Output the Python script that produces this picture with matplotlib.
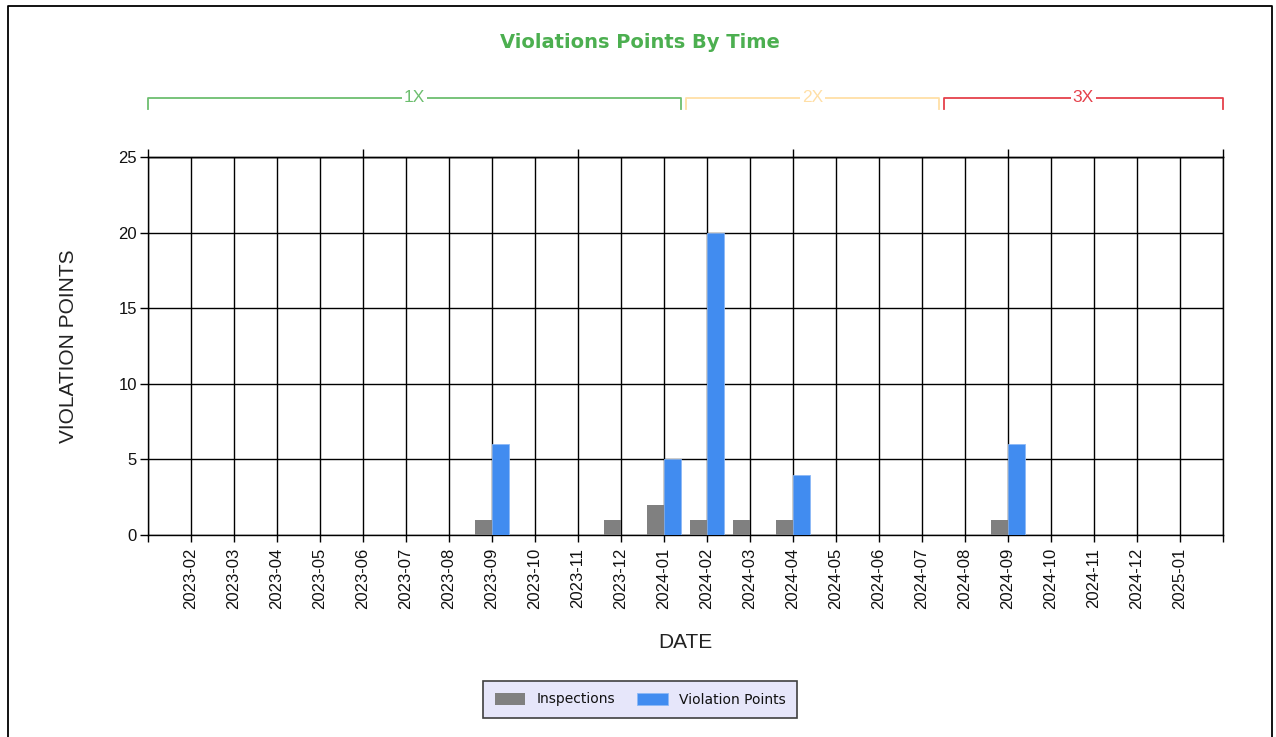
import matplotlib
matplotlib.use("Agg")
import matplotlib.pyplot as plt
import matplotlib.transforms as mtransforms
from matplotlib.lines import Line2D
import numpy as np

# ---------------- data ----------------
months = ["2023-02", "2023-03", "2023-04", "2023-05", "2023-06", "2023-07",
          "2023-08", "2023-09", "2023-10", "2023-11", "2023-12", "2024-01",
          "2024-02", "2024-03", "2024-04", "2024-05", "2024-06", "2024-07",
          "2024-08", "2024-09", "2024-10", "2024-11", "2024-12", "2025-01"]
inspections = [0, 0, 0, 0, 0, 0, 0, 1, 0, 0, 1, 2,
               1, 1, 1, 0, 0, 0, 0, 1, 0, 0, 0, 0]
violation_points = [0, 0, 0, 0, 0, 0, 0, 6, 0, 0, 0, 5,
                    20, 0, 4, 0, 0, 0, 0, 6, 0, 0, 0, 0]
y_ticks = [0, 5, 10, 15, 20, 25]
# multiplier bands (label, start, end) in month-slot units
band_labels = ["1X", "2X", "3X"]
band_starts = [0.0, 12.5, 18.5]
band_ends = [12.4, 18.4, 25.0]
band_colors = ["#6DBE6F", "#FFDFA6", "#E5414B"]

W, H = 1276, 737
fig = plt.figure(figsize=(W / 100, H / 100), dpi=100)
fig.patch.set_facecolor("white")

left, right, top, bottom = 148, 1223, 157, 535
ax = fig.add_axes([left / W, 1 - bottom / H, (right - left) / W, (bottom - top) / H])

x = np.arange(1, len(months) + 1)
bw = 0.395
ax.bar(x - bw / 2, inspections, width=bw, color="#808080", edgecolor="none",
       label="Inspections", zorder=3)
ax.bar(x + bw / 2, violation_points, width=bw, color="#418CF0",
       edgecolor="#8DB9F6", linewidth=0.6, label="Violation Points", zorder=3)

ax.set_xlim(0, len(months) + 1)
ax.set_ylim(0, 25)
ax.set_xticks(list(range(0, len(months) + 2)))
ax.set_xticklabels([""] + months + [""], rotation=90, fontsize=12,
                   family="Liberation Sans", color="#111111")
ax.set_yticks(y_ticks)
ax.set_yticklabels([str(v) for v in y_ticks], fontsize=12, family="Liberation Sans",
                   color="#111111")
ax.tick_params(axis="x", length=5, width=1.0, color="black", pad=4)
ax.tick_params(axis="y", length=6, width=1.0, color="black", pad=2)
ax.grid(True, color="black", linewidth=1.0, zorder=0)
ax.set_axisbelow(True)
for s in ax.spines.values():
    s.set_color("black")
    s.set_linewidth(1.0)

sec = ax.secondary_xaxis("top")
sec.set_xticks([0, 5, 10, 15, 20, 25])
sec.tick_params(axis="x", length=6, width=1.0, labeltop=False, color="black")
sec.spines["top"].set_linewidth(1.0)

ax.set_xlabel("DATE", fontsize=15, family="Liberation Sans", color="#222222")
ax.xaxis.set_label_coords(0.5, -0.259)
ax.set_ylabel("VIOLATION POINTS", fontsize=15, family="Liberation Sans",
              color="#222222", va="center")
ax.yaxis.set_label_coords(-0.0744, 0.5)

# bands above the chart
btr = mtransforms.blended_transform_factory(ax.transData, fig.transFigure)
yb = 1 - 98 / H
yb2 = 1 - 109 / H
for lab, s0, s1, c in zip(band_labels, band_starts, band_ends, band_colors):
    ax.add_line(Line2D([s0, s0, s1, s1], [yb2, yb, yb, yb2], transform=btr,
                       color=c, linewidth=1.3, clip_on=False))
    ax.text((s0 + s1) / 2, yb, lab, transform=btr, ha="center", va="center",
            color=c, fontsize=12.5, family="Liberation Sans",
            bbox=dict(facecolor="white", edgecolor="none", pad=1.5), clip_on=False)

fig.text(640 / W, 1 - 43 / H, "Violations Points By Time", ha="center", va="center",
         fontsize=14, fontweight="bold", color="#4CAF50", family="DejaVu Sans")

leg = ax.legend(loc="center", bbox_to_anchor=(640 / W, 1 - 699.5 / H),
                bbox_transform=fig.transFigure, ncol=2, fontsize=10,
                frameon=True, fancybox=False, facecolor="#E6E6FA",
                edgecolor="#404040", framealpha=1, handlelength=2.2,
                handleheight=1.0, columnspacing=1.6, borderpad=0.85,
                labelcolor="#111111")
leg.get_frame().set_linewidth(1.2)

# outer frame
fl, fr, ft = 8 / W, 1272 / W, 1 - 6 / H
fig.add_artist(Line2D([fl, fl, fr, fr], [0, ft, ft, 0], transform=fig.transFigure,
                      color="black", linewidth=1.3))

fig.savefig("out.png", dpi=100)
